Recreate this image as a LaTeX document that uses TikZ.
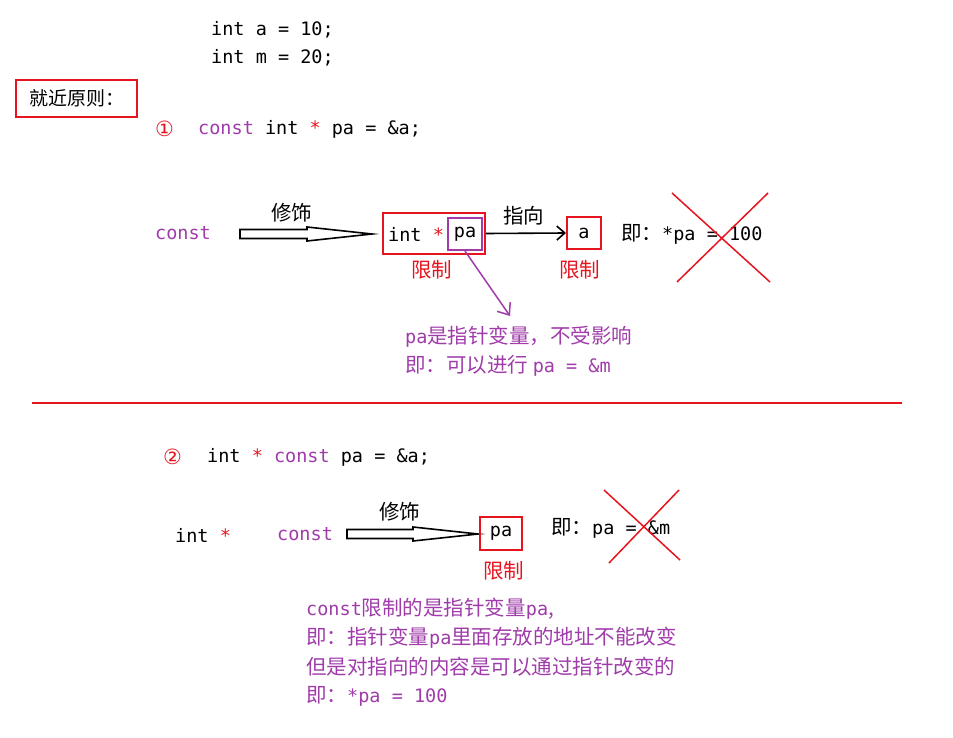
\documentclass[tikz,border=0pt]{standalone}
\usepackage{fontspec}
\usetikzlibrary{arrows.meta}
\setmonofont{DejaVu Sans Mono}
\newfontfamily\cjk{Noto Sans CJK SC}
\newfontfamily\sym{DejaVu Sans}
\definecolor{pur}{RGB}{160,60,170}
\definecolor{rd}{RGB}{230,20,30}
\newcommand{\mono}{\ttfamily\fontsize{18.5}{22}\selectfont}
\begin{document}
\begin{tikzpicture}[x=1pt,y=-1pt,
  t/.style={anchor=west,inner sep=0pt,font=\mono},
  c/.style={anchor=west,inner sep=0pt,font=\cjk\fontsize{20.5}{24}\selectfont},
  rbox/.style={draw=rd,line width=2pt},
  xline/.style={draw=rd,line width=1.5pt}]
\useasboundingbox (0,0) rectangle (953,738);
\fill[white] (0,0) rectangle (953,738);
\node[t] (l1) at (211,30) {int a = 10;};
\node[t] (l2) at (211,58) {int m = 20;};
\node[rbox,minimum width=121pt,minimum height=37pt,inner sep=0pt,font=\cjk\fontsize{19}{22}\selectfont] (rule) at (76.5,98.5) {就近原则：};
\node[t,text=rd,font=\sym\fontsize{21}{24}\selectfont] (n1) at (155,129) {①};
\node[t] (s1) at (198,129) {\textcolor{pur}{const} int \textcolor{rd}{*} pa = \&a;};
\node[t,text=pur] (const1) at (155,233) {const};
\node[c] (xs1) at (271,213) {修饰};
\draw[line width=1.6pt] (240,229.5) -- (307,229.5) -- (307,227) -- (372,234) -- (307,241) -- (307,238.5) -- (240,238.5) -- cycle;
\node[rbox,minimum width=102pt,minimum height=41pt,inner sep=0pt] (b1) at (434,233.5) {};
\node[t] (int1) at (388,234) {int \textcolor{rd}{*}};
\node[draw=pur,line width=2pt,minimum width=34pt,minimum height=32pt,inner sep=0pt] (pa1) at (465,234) {\mono pa};
\node[rbox,minimum width=34pt,minimum height=32pt,inner sep=0pt] (a1) at (584,233) {\mono a};
\draw[-{Straight Barb[length=8pt,width=14pt]},line width=1.6pt] (b1.east) -- (a1.west);
\node[c] (zx) at (503,216) {指向};
\node[c,text=rd] (xz1) at (411,270) {限制};
\node[c,text=rd] (xz2) at (559,270) {限制};
\node[t] (j1) at (621,234) {{\cjk\fontsize{20.5}{24}\selectfont 即：}*pa = 100};
\draw[xline] (672,193) -- (770,282);
\draw[xline] (768,193) -- (677,282);
\coordinate (pe) at (510,316);
\draw[pur,line width=1.5pt,-{Straight Barb[length=10pt,width=16pt]}] (pa1.south) -- (pe);
\node[c,text=pur] (p1) at (405,337) {{\mono pa}是指针变量，不受影响};
\node[c,text=pur] (p2) at (405,366) {即：可以进行 {\mono pa = \&m}};
\draw[rd,line width=1.5pt] (32,403) -- (902,403);
\node[t,text=rd,font=\sym\fontsize{21}{24}\selectfont] (n2) at (163,457) {②};
\node[t] (s2) at (207,457) {int \textcolor{rd}{*} \textcolor{pur}{const} pa = \&a;};
\node[t] (int2) at (175,535) {int \textcolor{rd}{*}};
\node[t,text=pur] (const2) at (277,534) {const};
\node[c] (xs2) at (379,512) {修饰};
\draw[line width=1.6pt] (347,529.5) -- (413,529.5) -- (413,527) -- (478,534) -- (413,541) -- (413,538.5) -- (347,538.5) -- cycle;
\node[rbox,minimum width=42pt,minimum height=33pt,inner sep=0pt] (pa2) at (501,533.5) {\mono pa};
\node[c,text=rd] (xz3) at (483,571) {限制};
\node[t] (j2) at (551,528) {{\cjk\fontsize{20.5}{24}\selectfont 即：}pa = \&m};
\draw[xline] (604,490) -- (680,560);
\draw[xline] (679,490) -- (609,563);
\node[c,text=pur] (q1) at (306,609) {{\mono const}限制的是指针变量{\mono pa},};
\node[c,text=pur] (q2) at (306,638) {即：指针变量{\mono pa}里面存放的地址不能改变};
\node[c,text=pur] (q3) at (306,667) {但是对指向的内容是可以通过指针改变的};
\node[c,text=pur] (q4) at (306,696) {即：{\mono *pa = 100}};
\end{tikzpicture}
\end{document}
